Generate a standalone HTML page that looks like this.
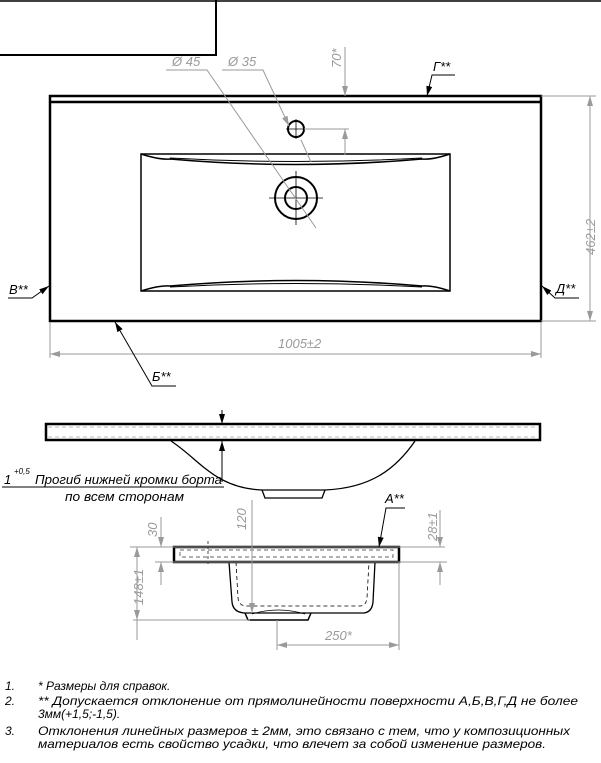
<!DOCTYPE html>
<html><head><meta charset="utf-8"><style>
html,body{margin:0;padding:0;background:#fff;width:601px;height:763px;overflow:hidden}
svg{display:block}
.g{stroke:#9a9a9a;stroke-width:1;fill:none}
.k{stroke:#000;fill:none}
.t{font-family:"Liberation Sans",sans-serif;font-style:italic;fill:#9a9a9a;font-size:13px}
.tb{font-family:"Liberation Sans",sans-serif;font-style:italic;fill:#000;font-size:13px}
</style></head><body>
<svg width="601" height="763" viewBox="0 0 601 763" xmlns="http://www.w3.org/2000/svg">
<defs>
<marker id="a" viewBox="0 0 10 6" refX="10" refY="3" markerWidth="10" markerHeight="6" orient="auto" markerUnits="userSpaceOnUse"><path d="M0,0 L10,3 L0,6z" fill="#9a9a9a"/></marker>
<marker id="ak" viewBox="0 0 10 6" refX="10" refY="3" markerWidth="10" markerHeight="6" orient="auto" markerUnits="userSpaceOnUse"><path d="M0,0 L10,3 L0,6z" fill="#000"/></marker>
</defs>
<line x1="0" y1="1" x2="601" y2="1" class="k" stroke-width="1.5"/>
<path d="M216,0 V55 H0" class="k" stroke-width="2"/>

<rect x="50" y="96" width="491" height="225" class="k" stroke-width="2.5"/>
<line x1="50" y1="102" x2="541" y2="102" class="k" stroke-width="2.5"/>
<rect x="141" y="154" width="309" height="137" class="k" stroke-width="1.5"/>
<path d="M141,154 Q160,160 170,159 Q296,170 422,159 Q432,160 450,154" class="k" stroke-width="1.5"/>
<path d="M170,158 Q296,165 422,158" class="k" stroke-width="1"/>
<path d="M141,291 Q160,285 170,286 Q296,275 422,286 Q432,285 450,291" class="k" stroke-width="1.5"/>
<path d="M170,287 Q296,280 422,287" class="k" stroke-width="1"/>
<circle cx="296" cy="198" r="21" class="k" stroke-width="2"/>
<circle cx="296" cy="198" r="11" class="k" stroke-width="2"/>
<path d="M296,171 V225 M269,198 H323" class="k" stroke-width="0.8"/>
<circle cx="296" cy="129" r="8" class="k" stroke-width="2"/>
<path d="M296,119 V139 M286,129 H306" class="k" stroke-width="0.8"/>
<path d="M166,70 H207 L316,228" class="g"/>
<text x="172" y="66" class="t">Ø 45</text>
<path d="M222,70 H263 L289,126" class="g" marker-end="url(#a)"/>
<line x1="301" y1="140" x2="311" y2="162" class="g"/>
<text x="228" y="66" class="t">Ø 35</text>
<line x1="345" y1="47" x2="345" y2="96" class="g" marker-end="url(#a)"/>
<line x1="345" y1="155" x2="345" y2="129" class="g" marker-end="url(#a)"/>
<line x1="304" y1="129" x2="349" y2="129" class="g"/>
<text transform="translate(341,68) rotate(-90)" class="t">70*</text>
<path d="M455,75 H432 L427,96" class="k" stroke-width="1" marker-end="url(#ak)"/>
<text x="433" y="71" class="tb">Г**</text>
<path d="M541,96 H596 M541,321 H596" class="g"/>
<line x1="590" y1="200" x2="590" y2="96" class="g" marker-end="url(#a)"/>
<line x1="590" y1="200" x2="590" y2="321" class="g" marker-end="url(#a)"/>
<text transform="translate(595,255) rotate(-90)" class="t">462±2</text>
<path d="M50,322 V358 M541,322 V358" class="g"/>
<line x1="300" y1="354" x2="50" y2="354" class="g" marker-end="url(#a)"/>
<line x1="300" y1="354" x2="541" y2="354" class="g" marker-end="url(#a)"/>
<text x="278" y="348" class="t">1005±2</text>
<path d="M8,298 H32 L49,286" class="k" stroke-width="1" marker-end="url(#ak)"/>
<text x="9" y="294" class="tb">В**</text>
<path d="M579,298 H555 L542,286" class="k" stroke-width="1" marker-end="url(#ak)"/>
<text x="556" y="293" class="tb">Д**</text>
<path d="M176,386 H152 L115,322" class="k" stroke-width="1" marker-end="url(#ak)"/>
<text x="152" y="381" class="tb">Б**</text>

<rect x="46" y="424" width="494" height="16" class="k" stroke-width="2.5"/>
<line x1="48" y1="427" x2="538" y2="427" stroke="#777" stroke-width="0.5" stroke-dasharray="4,3"/>
<line x1="48" y1="437" x2="538" y2="437" stroke="#777" stroke-width="0.5" stroke-dasharray="4,3"/>
<path d="M171,441 C200,460 215,488 262,490 L325,490 C370,488 395,470 415,441" class="k" stroke-width="1.3"/>
<path d="M262,490 L265,498 L322,498 L325,490" class="k" stroke-width="1.3"/>
<line x1="222" y1="410" x2="222" y2="424" class="k" stroke-width="1" marker-end="url(#ak)"/>
<line x1="222" y1="482" x2="222" y2="441" class="k" stroke-width="1" marker-end="url(#ak)"/>
<path d="M2,487 H224" class="k" stroke-width="1"/>
<text x="4" y="484" class="tb">1</text>
<text x="14" y="474" class="tb" style="font-size:8px">+0,5</text>
<text x="35" y="484" class="tb" textLength="187" lengthAdjust="spacingAndGlyphs">Прогиб нижней кромки борта</text>
<text x="65" y="501" class="tb" textLength="119" lengthAdjust="spacingAndGlyphs">по всем сторонам</text>

<rect x="174" y="547" width="225" height="15" class="k" stroke-width="2.5"/>
<path d="M180,550 H393 V557 H180z" stroke="#333" fill="none" stroke-width="0.7" stroke-dasharray="4,3"/>
<path d="M208,541 V565" class="k" stroke-width="0.7" stroke-dasharray="3,2"/>
<path d="M229,562 L232,602 Q233,612 244,613 L364,613 Q372,612 373,602 L375,562" class="k" stroke-width="1.3"/>
<path d="M236,562 L238,598 Q239,606 246,606 L360,606 Q366,606 367,598 L369,562" class="k" stroke-width="0.8" stroke-dasharray="4,3"/>
<path d="M245,613 L248,620 L308,620 L311,613" class="k" stroke-width="1.5"/>
<path d="M252,614 Q278,606 305,614" class="k" stroke-width="0.7"/>
<path d="M130,547 H445 M155,562 H447 M133,620 H250" class="g"/>
<line x1="137" y1="590" x2="137" y2="547" class="g" marker-end="url(#a)"/>
<line x1="137" y1="590" x2="137" y2="620" class="g" marker-end="url(#a)"/>
<line x1="137" y1="620" x2="137" y2="640" class="g"/>
<text transform="translate(143,605) rotate(-90)" class="t">148±1</text>
<line x1="161" y1="517" x2="161" y2="547" class="g" marker-end="url(#a)"/>
<line x1="161" y1="585" x2="161" y2="562" class="g" marker-end="url(#a)"/>
<text transform="translate(157,537) rotate(-90)" class="t">30</text>
<line x1="252" y1="500" x2="252" y2="613" class="g" marker-end="url(#a)"/>
<text transform="translate(246,530) rotate(-90)" class="t">120</text>
<line x1="440" y1="510" x2="440" y2="547" class="g" marker-end="url(#a)"/>
<line x1="440" y1="585" x2="440" y2="562" class="g" marker-end="url(#a)"/>
<text transform="translate(437,541) rotate(-90)" class="t">28±1</text>
<path d="M277,620 V650 M399,562 V650" class="g"/>
<line x1="340" y1="645" x2="277" y2="645" class="g" marker-end="url(#a)"/>
<line x1="340" y1="645" x2="399" y2="645" class="g" marker-end="url(#a)"/>
<text x="325" y="640" class="t">250*</text>
<path d="M405,508 H386 L379,547" class="k" stroke-width="1" marker-end="url(#ak)"/>
<text x="385" y="503" class="tb">A**</text>

<g class="tb" style="font-size:12px">
<text x="5" y="690">1.</text>
<text x="38" y="690">* Размеры для справок.</text>
<text x="5" y="705">2.</text>
<text x="38" y="705" textLength="540" lengthAdjust="spacingAndGlyphs">** Допускается отклонение от прямолинейности поверхности А,Б,В,Г,Д не более</text>
<text x="38" y="718">3мм(+1,5;-1,5).</text>
<text x="5" y="735">3.</text>
<text x="38" y="735" textLength="532" lengthAdjust="spacingAndGlyphs">Отклонения линейных размеров ± 2мм, это связано с тем, что у композиционных</text>
<text x="38" y="748" textLength="508" lengthAdjust="spacingAndGlyphs">материалов есть свойство усадки, что влечет за собой изменение размеров.</text>
</g>
</svg>
</body></html>
